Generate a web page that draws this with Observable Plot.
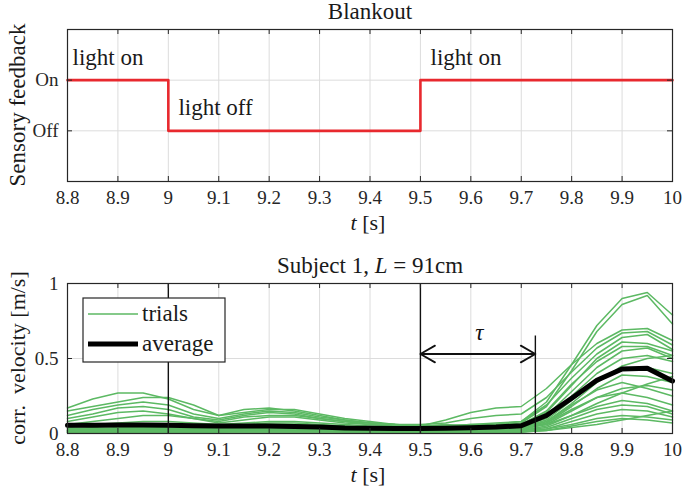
<!DOCTYPE html>
<html><head><meta charset="utf-8">
<script src="https://cdn.jsdelivr.net/npm/d3@7"></script>
<script src="https://cdn.jsdelivr.net/npm/@observablehq/plot@0.6"></script>
<style>
html,body{margin:0;padding:0;background:#fff;}
#chart{width:685px;height:494px;}
#chart svg{display:block;}
</style></head><body><div id="chart"></div>
<script>
// ---------- data ----------
const xTicks = [8.8, 8.9, 9.0, 9.1, 9.2, 9.3, 9.4, 9.5, 9.6, 9.7, 9.8, 9.9, 10.0];
const stateTicks = [0, 1];
const stateLabels = ["Off", "On"];
const blankTimes = [8.8, 9.0, 9.5, 10.0];
const blankState = [1, 0, 1, 1];
const annoText = ["light on", "light off", "light on"];
const annoT = [8.81, 9.02, 9.52];
const annoY = [1.45, 0.45, 1.45];

const velTicks = [0, 0.5, 1];
const eventTimes = [9.0, 9.5];
const tauEnd = 9.728;
const tauTop = 0.65;
const tauArrowY = 0.53;
const tauLabel = "τ";
const tauLabelT = 9.617;
const tauLabelY = 0.67;

const times = [8.8, 8.85, 8.9, 8.95, 9.0, 9.05, 9.1, 9.15, 9.2, 9.25, 9.3, 9.35, 9.4, 9.45, 9.5, 9.55, 9.6, 9.65, 9.7, 9.75, 9.8, 9.85, 9.9, 9.95, 10.0];
const trialValues = [
  [0.17,0.23,0.27,0.27,0.23,0.16,0.12,0.16,0.17,0.15,0.12,0.09,0.07,0.06,0.05,0.05,0.06,0.06,0.08,0.21,0.46,0.72,0.90,0.94,0.79],
  [0.15,0.18,0.21,0.24,0.24,0.19,0.12,0.14,0.16,0.16,0.13,0.10,0.08,0.06,0.05,0.06,0.05,0.06,0.07,0.18,0.42,0.68,0.86,0.92,0.73],
  [0.12,0.16,0.19,0.21,0.19,0.13,0.10,0.13,0.15,0.14,0.11,0.09,0.07,0.06,0.05,0.09,0.14,0.17,0.18,0.30,0.46,0.60,0.69,0.70,0.62],
  [0.10,0.13,0.17,0.18,0.16,0.11,0.09,0.12,0.14,0.13,0.10,0.08,0.07,0.06,0.06,0.07,0.10,0.12,0.13,0.24,0.41,0.57,0.67,0.68,0.59],
  [0.08,0.11,0.14,0.15,0.13,0.10,0.08,0.11,0.12,0.12,0.10,0.08,0.06,0.05,0.05,0.05,0.06,0.07,0.08,0.19,0.37,0.53,0.64,0.66,0.56],
  [0.06,0.08,0.10,0.12,0.12,0.10,0.07,0.09,0.11,0.11,0.09,0.07,0.06,0.05,0.04,0.04,0.05,0.06,0.06,0.14,0.32,0.50,0.61,0.60,0.55],
  [0.05,0.06,0.07,0.08,0.08,0.07,0.06,0.07,0.08,0.08,0.07,0.06,0.05,0.04,0.04,0.04,0.04,0.05,0.06,0.15,0.33,0.48,0.58,0.58,0.52],
  [0.04,0.05,0.05,0.06,0.06,0.05,0.05,0.06,0.07,0.07,0.06,0.05,0.04,0.04,0.04,0.04,0.04,0.04,0.05,0.12,0.28,0.44,0.55,0.57,0.50],
  [0.03,0.04,0.05,0.05,0.05,0.05,0.04,0.05,0.06,0.06,0.05,0.05,0.04,0.04,0.03,0.03,0.04,0.04,0.05,0.10,0.25,0.40,0.50,0.52,0.48],
  [0.03,0.03,0.04,0.04,0.04,0.04,0.04,0.04,0.05,0.05,0.05,0.04,0.04,0.03,0.03,0.03,0.03,0.04,0.04,0.08,0.20,0.34,0.45,0.50,0.52],
  [0.02,0.03,0.03,0.04,0.04,0.03,0.03,0.04,0.04,0.04,0.04,0.04,0.03,0.03,0.03,0.03,0.03,0.03,0.04,0.09,0.22,0.35,0.43,0.44,0.40],
  [0.02,0.02,0.03,0.03,0.03,0.03,0.03,0.03,0.04,0.04,0.04,0.03,0.03,0.03,0.02,0.02,0.03,0.03,0.03,0.07,0.18,0.30,0.39,0.38,0.34],
  [0.02,0.02,0.02,0.03,0.03,0.03,0.03,0.03,0.03,0.03,0.03,0.03,0.03,0.02,0.02,0.02,0.02,0.03,0.03,0.08,0.19,0.29,0.34,0.30,0.25],
  [0.01,0.02,0.02,0.02,0.02,0.02,0.02,0.03,0.03,0.03,0.03,0.02,0.02,0.02,0.02,0.02,0.02,0.02,0.03,0.06,0.15,0.24,0.30,0.32,0.29],
  [0.01,0.01,0.02,0.02,0.02,0.02,0.02,0.02,0.02,0.02,0.02,0.02,0.02,0.02,0.02,0.02,0.02,0.02,0.02,0.07,0.16,0.24,0.27,0.24,0.19],
  [0.01,0.01,0.01,0.02,0.02,0.02,0.02,0.02,0.02,0.02,0.02,0.02,0.02,0.01,0.01,0.01,0.02,0.02,0.02,0.05,0.12,0.18,0.22,0.20,0.15],
  [0.01,0.01,0.01,0.01,0.01,0.01,0.01,0.02,0.02,0.02,0.02,0.01,0.01,0.01,0.01,0.01,0.01,0.02,0.02,0.04,0.10,0.16,0.19,0.18,0.13],
  [0.01,0.01,0.01,0.01,0.01,0.01,0.01,0.01,0.01,0.01,0.01,0.01,0.01,0.01,0.01,0.01,0.01,0.01,0.01,0.03,0.08,0.13,0.16,0.15,0.11],
  [0.02,0.02,0.02,0.02,0.02,0.02,0.02,0.02,0.02,0.02,0.02,0.02,0.02,0.02,0.02,0.02,0.02,0.02,0.02,0.03,0.06,0.10,0.12,0.11,0.09],
  [0.01,0.01,0.02,0.02,0.02,0.02,0.02,0.02,0.02,0.02,0.02,0.02,0.01,0.01,0.01,0.01,0.01,0.01,0.01,0.02,0.05,0.08,0.10,0.09,0.07],
  [0.01,0.01,0.01,0.01,0.01,0.01,0.01,0.01,0.01,0.01,0.01,0.01,0.01,0.01,0.01,0.01,0.01,0.01,0.01,0.02,0.04,0.06,0.09,0.12,0.15],
  [0.03,0.03,0.03,0.03,0.03,0.03,0.03,0.03,0.03,0.03,0.03,0.03,0.03,0.03,0.03,0.03,0.03,0.03,0.04,0.06,0.12,0.20,0.27,0.33,0.38]
];
const averageValues = [0.055,0.055,0.056,0.056,0.055,0.052,0.05,0.05,0.05,0.047,0.043,0.037,0.035,0.034,0.034,0.035,0.038,0.043,0.052,0.12,0.235,0.355,0.43,0.435,0.35];

// ---------- styles ----------
const FONT = "'Liberation Serif', 'Times New Roman', serif";
const INK = "#262626";
const GRID = "#dcdcdc";
const RED = "#e8292e";
const GREEN = "#5cb963";
const W = 685, ML = 67, MR = 13;
const PW = W - ML - MR;

const blankRows = blankTimes.map((t, i) => ({t, s: blankState[i]}));
const annoRows = annoText.map((label, i) => ({label, t: annoT[i], y: annoY[i]}));
const trialRows = trialValues.flatMap((vals, k) => vals.map((v, i) => ({t: times[i], v, trial: k})));
const avgRows = averageValues.map((v, i) => ({t: times[i], v}));
const midT = (eventTimes[1] + tauEnd) / 2;
const arrowRows = [{a: midT, b: eventTimes[1]}, {a: midT, b: tauEnd}];
const tauRows = [{label: tauLabel, t: tauLabelT, y: tauLabelY}];

const chartEl = document.getElementById("chart");

// ---------- top panel ----------
const H1 = 240, MT1 = 29, MB1 = 59;
const PH1 = H1 - MT1 - MB1;
const topPlot = Plot.plot({
  width: W, height: H1, marginLeft: ML, marginRight: MR, marginTop: MT1, marginBottom: MB1,
  style: {fontFamily: FONT, fontSize: "19px", color: INK, background: "#fff", overflow: "visible"},
  x: {domain: [8.8, 10], label: null},
  y: {domain: [-1, 2], label: null},
  marks: [
    Plot.ruleX(xTicks, {stroke: GRID, strokeWidth: 1}),
    Plot.ruleY(stateTicks, {stroke: GRID, strokeWidth: 1}),
    Plot.line(blankRows, {x: "t", y: "s", curve: "step-after", stroke: RED, strokeWidth: 2.6}),
    Plot.text(annoRows, {x: "t", y: "y", text: "label", textAnchor: "start", fontSize: 23, fill: "#1a1a1a"}),
    Plot.ruleX(xTicks, {insetTop: PH1 - 5, stroke: INK}),
    Plot.ruleX(xTicks, {insetBottom: PH1 - 5, stroke: INK}),
    Plot.ruleY(stateTicks, {insetRight: PW - 5, stroke: INK}),
    Plot.ruleY(stateTicks, {insetLeft: PW - 5, stroke: INK}),
    Plot.axisX(xTicks, {anchor: "bottom", tickSize: 0, tickPadding: 9, tickFormat: d => String(d), label: null}),
    Plot.axisY(stateTicks, {anchor: "left", tickSize: 0, tickPadding: 9, tickFormat: d => stateLabels[d], label: null}),
    Plot.frame({stroke: INK, strokeWidth: 1.2})
  ]
});
chartEl.appendChild(topPlot);

// ---------- bottom panel ----------
const H2 = 254, MT2 = 43, MB2 = 61;
const PH2 = H2 - MT2 - MB2;
const bottomPlot = Plot.plot({
  width: W, height: H2, marginLeft: ML, marginRight: MR, marginTop: MT2, marginBottom: MB2,
  style: {fontFamily: FONT, fontSize: "19px", color: INK, background: "#fff", overflow: "visible"},
  x: {domain: [8.8, 10], label: null},
  y: {domain: [0, 1], label: null},
  marks: [
    Plot.ruleX(xTicks, {stroke: GRID, strokeWidth: 1}),
    Plot.ruleY(velTicks, {stroke: GRID, strokeWidth: 1}),
    Plot.line(trialRows, {x: "t", y: "v", z: "trial", stroke: GREEN, strokeWidth: 1.5}),
    Plot.line(avgRows, {x: "t", y: "v", stroke: "#000", strokeWidth: 5}),
    Plot.ruleX(eventTimes, {stroke: "#111", strokeWidth: 1.4}),
    Plot.ruleX([tauEnd], {y1: 0, y2: tauTop, stroke: "#111", strokeWidth: 1.4}),
    Plot.arrow(arrowRows, {x1: "a", x2: "b", y1: () => tauArrowY, y2: () => tauArrowY, stroke: "#111", strokeWidth: 1.8, headLength: 14, headAngle: 60}),
    Plot.text(tauRows, {x: "t", y: "y", text: "label", fontStyle: "italic", fontSize: 23, fill: "#111"}),
    Plot.ruleX(xTicks, {insetTop: PH2 - 5, stroke: INK}),
    Plot.ruleX(xTicks, {insetBottom: PH2 - 5, stroke: INK}),
    Plot.ruleY(velTicks, {insetRight: PW - 5, stroke: INK}),
    Plot.ruleY(velTicks, {insetLeft: PW - 5, stroke: INK}),
    Plot.axisX(xTicks, {anchor: "bottom", tickSize: 0, tickPadding: 9, tickFormat: d => String(d), label: null}),
    Plot.axisY(velTicks, {anchor: "left", tickSize: 0, tickPadding: 9, tickFormat: d => String(d), label: null}),
    Plot.frame({stroke: INK, strokeWidth: 1.2})
  ]
});
chartEl.appendChild(bottomPlot);

// ---------- titles, axis labels, legend ----------
function addText(svg, x, y, parts, size, rotate, anchor) {
  const t = d3.select(svg).append("text")
    .attr("x", x).attr("y", y)
    .attr("text-anchor", anchor || "middle").attr("dominant-baseline", "central")
    .attr("font-family", FONT).attr("font-size", size).attr("fill", "#1a1a1a")
    .style("white-space", "pre");
  if (rotate) t.attr("transform", `rotate(-90 ${x} ${y})`);
  parts.forEach(p => {
    const s = t.append("tspan").text(p.text);
    if (p.italic) s.attr("font-style", "italic");
  });
  return t;
}
addText(topPlot, 370, 11, [{text: "Blankout"}], 23);
addText(topPlot, 368, 222, [{text: "t", italic: true}, {text: " [s]"}], 22);
addText(topPlot, 17, 105, [{text: "Sensory feedback"}], 23, true);

addText(bottomPlot, 370, 25, [{text: "Subject 1, "}, {text: "L", italic: true}, {text: " = 91cm"}], 23);
addText(bottomPlot, 368, 234, [{text: "t", italic: true}, {text: " [s]"}], 22);
addText(bottomPlot, 17, 118, [{text: "corr.\u00a0 velocity [m/s]"}], 22, true);

// legend box
const lg = d3.select(bottomPlot).append("g");
lg.append("rect").attr("x", 83).attr("y", 58).attr("width", 142).attr("height", 64)
  .attr("fill", "#fff").attr("stroke", INK).attr("stroke-width", 1.2);
lg.append("line").attr("x1", 88).attr("x2", 138).attr("y1", 74).attr("y2", 74)
  .attr("stroke", GREEN).attr("stroke-width", 1.6);
lg.append("line").attr("x1", 88).attr("x2", 138).attr("y1", 104).attr("y2", 104)
  .attr("stroke", "#000").attr("stroke-width", 5);
addText(bottomPlot, 142, 73, [{text: "trials"}], 23, false, "start");
addText(bottomPlot, 142, 103, [{text: "average"}], 23, false, "start");
</script></body></html>
